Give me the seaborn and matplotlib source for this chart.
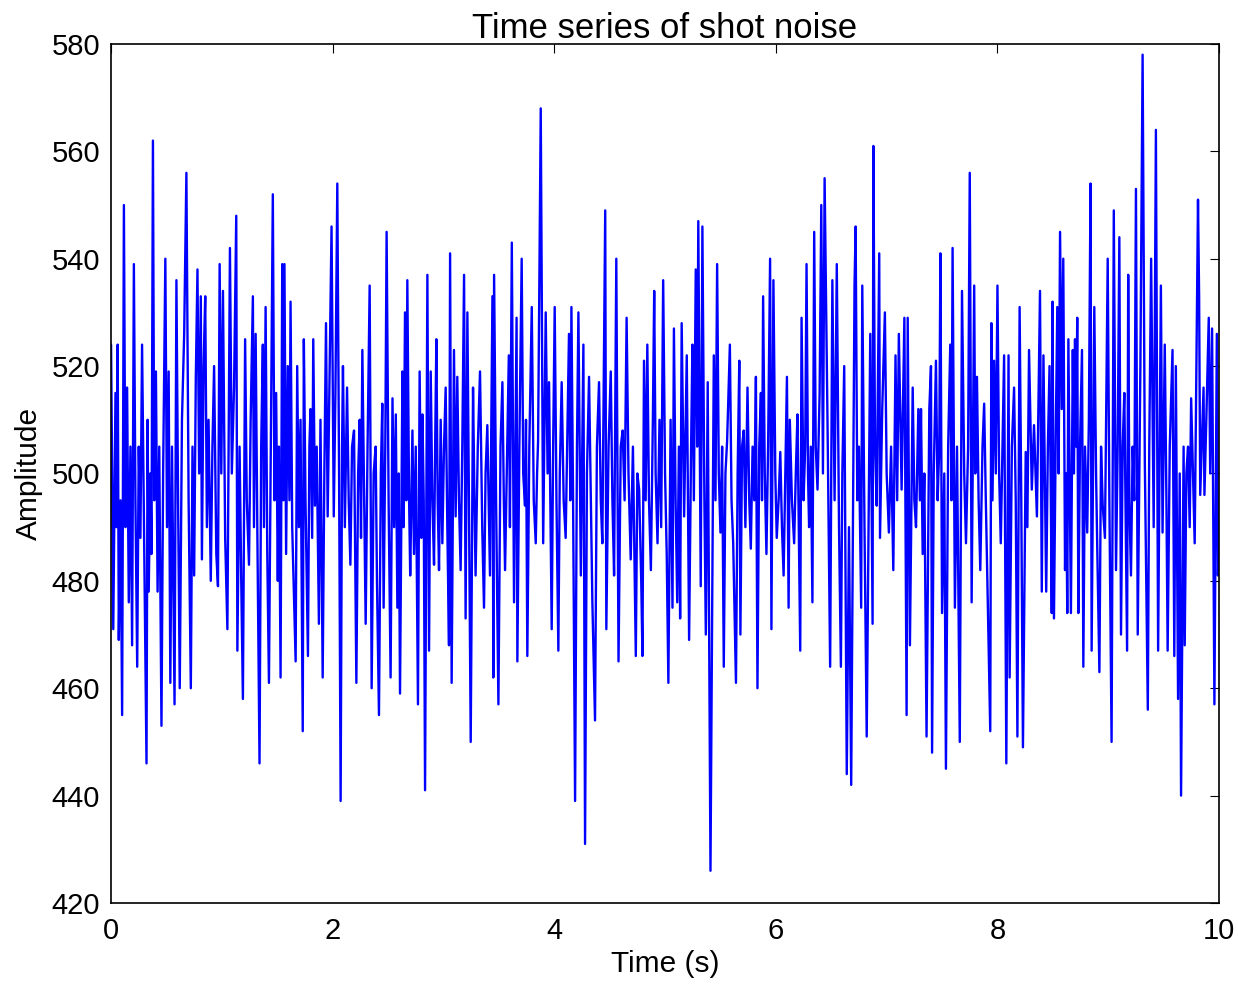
import numpy as np
import pandas as pd
import matplotlib
matplotlib.use("Agg")
import matplotlib.pyplot as plt
import seaborn as sns

# amplitude samples, split in time blocks
t_a = [0.00, 0.01, 0.02, 0.04, 0.05, 0.06, 0.07, 0.085, 0.10, 0.116,
       0.13, 0.145, 0.16, 0.175, 0.19, 0.206, 0.22, 0.236, 0.25, 0.265,
       0.28, 0.30, 0.32, 0.33, 0.34, 0.355, 0.365, 0.378, 0.39, 0.405,
       0.42, 0.435, 0.455, 0.47, 0.49, 0.505, 0.52, 0.535, 0.55, 0.56,
       0.573, 0.59, 0.605, 0.62, 0.64, 0.66, 0.68, 0.70, 0.72, 0.735,
       0.75, 0.765, 0.78, 0.795, 0.81, 0.82, 0.835, 0.85, 0.865, 0.88,
       0.90, 0.915, 0.93, 0.95, 0.965, 0.98, 0.995, 1.01, 1.03, 1.05,
       1.073, 1.09, 1.11, 1.13, 1.14, 1.16, 1.175, 1.19, 1.21, 1.225,
       1.245, 1.26, 1.28, 1.29, 1.305, 1.32, 1.34, 1.355, 1.37, 1.38,
       1.395, 1.41, 1.425, 1.44, 1.46, 1.475, 1.49, 1.505, 1.515, 1.53,
       1.545, 1.555, 1.565, 1.58, 1.595, 1.61, 1.62, 1.635, 1.666]
amp_a = [524, 500, 471, 515, 490, 524, 469, 495, 455, 550,
         490, 516, 476, 505, 468, 539, 495, 464, 505, 488,
         524, 485, 446, 510, 478, 500, 485, 562, 495, 519,
         478, 505, 453, 500, 540, 490, 519, 461, 505, 485,
         457, 536, 495, 460, 510, 526, 556, 495, 460, 505,
         481, 518, 538, 500, 533, 484, 520, 533, 490, 510,
         480, 505, 520, 485, 479, 539, 500, 534, 488, 471,
         542, 500, 516, 548, 467, 505, 480, 458, 525, 495,
         483, 510, 533, 490, 526, 490, 446, 505, 524, 490,
         531, 485, 461, 500, 552, 495, 515, 480, 505, 462,
         539, 495, 539, 485, 520, 495, 532, 490, 465]

t_b = [1.68, 1.695, 1.71, 1.73, 1.74, 1.755, 1.777, 1.79, 1.80, 1.815,
       1.825, 1.84, 1.856, 1.876, 1.89, 1.91, 1.925, 1.94, 1.955, 1.967,
       1.99, 2.01, 2.025, 2.042, 2.058, 2.072, 2.085, 2.093, 2.11, 2.13,
       2.145, 2.16, 2.175, 2.193, 2.214, 2.23, 2.244, 2.256, 2.268, 2.285,
       2.298, 2.315, 2.334, 2.352, 2.37, 2.388, 2.40, 2.418, 2.435, 2.448,
       2.46, 2.475, 2.487, 2.505, 2.523, 2.54, 2.555, 2.57, 2.584, 2.596,
       2.608, 2.63, 2.64, 2.653, 2.665, 2.674, 2.69, 2.70, 2.72, 2.734,
       2.75, 2.77, 2.785, 2.80, 2.81, 2.822, 2.834, 2.855, 2.87, 2.885,
       2.90, 2.915, 2.925, 2.936, 2.948, 2.96, 2.975, 2.99, 3.005, 3.02,
       3.035, 3.05, 3.06, 3.074, 3.095, 3.11, 3.125, 3.14, 3.155, 3.17,
       3.186, 3.20, 3.216, 3.23, 3.246, 3.267, 3.28, 3.29, 3.31, 3.33,
       3.35, 3.366]
amp_b = [520, 490, 510, 452, 525, 495, 466, 505, 512, 488,
         525, 494, 505, 472, 510, 462, 500, 528, 492, 510,
         546, 492, 515, 554, 500, 439, 505, 520, 490, 516,
         495, 483, 505, 508, 461, 500, 510, 488, 523, 495,
         472, 505, 535, 460, 500, 505, 480, 455, 500, 513,
         475, 505, 545, 495, 462, 514, 490, 511, 475, 500,
         459, 519, 490, 530, 495, 536, 495, 481, 508, 485,
         505, 457, 519, 488, 511, 495, 441, 537, 467, 519,
         495, 483, 505, 525, 495, 482, 510, 487, 505, 516,
         490, 468, 541, 461, 523, 492, 518, 495, 482, 505,
         537, 473, 530, 495, 450, 516, 495, 481, 505, 519,
         490, 475]

t_c = [3.38, 3.396, 3.42, 3.43, 3.442, 3.45, 3.457, 3.475, 3.496, 3.515,
       3.532, 3.545, 3.556, 3.575, 3.59, 3.60, 3.617, 3.637, 3.66, 3.667,
       3.685, 3.706, 3.72, 3.736, 3.745, 3.757, 3.775, 3.797, 3.815, 3.833,
       3.845, 3.854, 3.878, 3.90, 3.923, 3.94, 3.953, 3.977, 3.99, 4.004,
       4.02, 4.037, 4.05, 4.067, 4.085, 4.103, 4.12, 4.133, 4.145, 4.155,
       4.17, 4.188, 4.205, 4.218, 4.24, 4.263, 4.278, 4.295, 4.314, 4.33,
       4.344, 4.368, 4.385, 4.404, 4.42, 4.434, 4.46, 4.47, 4.49, 4.51,
       4.525, 4.54, 4.56, 4.58, 4.60, 4.617, 4.635, 4.653, 4.67, 4.69,
       4.71, 4.736, 4.75, 4.766, 4.785, 4.796, 4.81, 4.825, 4.84, 4.855,
       4.872, 4.89, 4.902, 4.915, 4.932, 4.95, 4.965, 4.983, 5.00, 5.015,
       5.03, 5.05, 5.067]
amp_c = [500, 509, 481, 505, 533, 462, 537, 495, 457, 505,
         517, 495, 482, 505, 522, 490, 543, 476, 529, 465,
         505, 540, 500, 494, 510, 466, 505, 531, 495, 487,
         500, 506, 568, 487, 530, 500, 517, 471, 505, 531,
         495, 467, 500, 517, 495, 488, 510, 526, 495, 531,
         495, 439, 505, 530, 481, 524, 431, 500, 518, 495,
         476, 454, 505, 517, 495, 487, 549, 471, 505, 519,
         495, 481, 540, 465, 505, 508, 495, 529, 500, 484,
         505, 466, 500, 497, 480, 466, 521, 495, 524, 495,
         482, 510, 534, 500, 487, 510, 490, 536, 500, 485,
         461, 510, 475]

t_d = [5.08, 5.095, 5.11, 5.125, 5.136, 5.15, 5.172, 5.196, 5.217, 5.235,
       5.247, 5.26, 5.277, 5.29, 5.30, 5.322, 5.337, 5.355, 5.368, 5.385,
       5.41, 5.44, 5.455, 5.47, 5.485, 5.50, 5.515, 5.53, 5.545, 5.56,
       5.585, 5.60, 5.615, 5.64, 5.655, 5.67, 5.68, 5.695, 5.71, 5.725,
       5.744, 5.76, 5.774, 5.79, 5.805, 5.82, 5.834, 5.85, 5.865, 5.875,
       5.885, 5.90, 5.915, 5.93, 5.948, 5.96, 5.978, 5.995, 6.008, 6.025,
       6.04, 6.055, 6.07, 6.085, 6.10, 6.115, 6.126, 6.145, 6.165, 6.18,
       6.195, 6.22, 6.232, 6.25, 6.265, 6.277, 6.29, 6.30, 6.315, 6.33,
       6.346, 6.36, 6.376, 6.395, 6.41, 6.425, 6.44, 6.466, 6.49, 6.51,
       6.53, 6.55, 6.57, 6.587, 6.60, 6.617, 6.64, 6.66, 6.68, 6.70,
       6.71, 6.72, 6.735, 6.75, 6.77, 6.78, 6.80, 6.82]
amp_d = [527, 495, 476, 505, 473, 528, 492, 522, 469, 505,
         524, 495, 538, 505, 547, 479, 546, 495, 470, 517,
         426, 522, 495, 539, 500, 489, 505, 464, 500, 506,
         524, 495, 487, 461, 500, 521, 470, 505, 508, 490,
         516, 495, 486, 505, 495, 518, 460, 505, 515, 495,
         533, 500, 485, 505, 540, 471, 536, 500, 488, 495,
         504, 490, 481, 500, 518, 475, 510, 495, 487, 500,
         511, 467, 529, 495, 505, 539, 500, 490, 505, 476,
         545, 505, 497, 515, 550, 500, 555, 510, 464, 536,
         495, 539, 490, 464, 500, 520, 444, 490, 442, 505,
         535, 546, 495, 505, 475, 535, 490, 451]

t_e = [6.852, 6.873, 6.88, 6.895, 6.91, 6.933, 6.94, 6.96, 6.984, 7.00,
       7.02, 7.04, 7.06, 7.08, 7.095, 7.11, 7.135, 7.16, 7.18, 7.19,
       7.21, 7.235, 7.25, 7.265, 7.286, 7.30, 7.31, 7.325, 7.34, 7.36,
       7.385, 7.40, 7.41, 7.425, 7.445, 7.46, 7.475, 7.485, 7.50, 7.52,
       7.535, 7.555, 7.574, 7.585, 7.595, 7.616, 7.635, 7.66, 7.68, 7.70,
       7.716, 7.735, 7.75, 7.767, 7.79, 7.80, 7.815, 7.83, 7.845, 7.865,
       7.88, 7.895, 7.911, 7.935, 7.945, 7.955, 7.97, 7.985, 8.00, 8.015,
       8.03, 8.045, 8.06, 8.08, 8.10, 8.11, 8.13, 8.15, 8.165, 8.18,
       8.20, 8.215, 8.23, 8.255, 8.27, 8.285, 8.31, 8.33, 8.356, 8.384]
amp_e = [526, 472, 561, 505, 494, 541, 488, 512, 530, 500,
         489, 505, 482, 522, 495, 526, 497, 529, 455, 529,
         468, 516, 495, 490, 512, 495, 512, 485, 500, 451,
         512, 520, 448, 500, 521, 495, 505, 541, 474, 500,
         445, 505, 524, 495, 542, 475, 505, 450, 534, 500,
         487, 505, 556, 476, 535, 500, 518, 495, 482, 505,
         513, 495, 478, 452, 528, 495, 521, 500, 535, 500,
         487, 505, 522, 446, 522, 462, 505, 516, 495, 451,
         531, 495, 449, 504, 490, 523, 497, 509, 492, 534]

t_f = [8.40, 8.415, 8.44, 8.455, 8.47, 8.482, 8.49, 8.497, 8.51, 8.525,
       8.54, 8.552, 8.565, 8.58, 8.594, 8.61, 8.62, 8.63, 8.64, 8.663,
       8.68, 8.69, 8.70, 8.71, 8.72, 8.73, 8.745, 8.763, 8.775, 8.79,
       8.81, 8.825, 8.84, 8.85, 8.874, 8.89, 8.90, 8.92, 8.935, 8.95,
       8.97, 8.995, 9.01, 9.03, 9.05, 9.07, 9.085, 9.10, 9.115, 9.13,
       9.145, 9.17, 9.18, 9.19, 9.205, 9.22, 9.235, 9.25, 9.266, 9.29,
       9.31, 9.33, 9.357, 9.37, 9.387, 9.41, 9.43, 9.45, 9.475, 9.49,
       9.51, 9.525, 9.536, 9.555, 9.58, 9.596, 9.61, 9.63, 9.645, 9.657,
       9.68, 9.69, 9.705, 9.72, 9.735, 9.748, 9.765, 9.78, 9.81, 9.82,
       9.83, 9.86, 9.868, 9.885, 9.907, 9.92, 9.937, 9.958, 9.98, 9.99,
       10.0]
amp_f = [478, 522, 478, 505, 520, 495, 474, 532, 473, 505,
         531, 500, 545, 512, 540, 482, 500, 474, 525, 474,
         523, 500, 525, 505, 529, 474, 505, 523, 464, 505,
         489, 510, 554, 467, 531, 500, 487, 463, 505, 494,
         488, 540, 495, 450, 549, 482, 505, 544, 470, 505,
         515, 467, 537, 495, 481, 505, 495, 553, 470, 520,
         578, 502, 456, 505, 540, 490, 564, 467, 535, 489,
         524, 495, 467, 505, 523, 466, 520, 458, 500, 440,
         505, 468, 500, 505, 490, 514, 500, 487, 551, 533,
         496, 516, 496, 510, 529, 500, 527, 457, 526, 481,
         490]

x_ticks = [0, 2, 4, 6, 8, 10]
y_ticks = [420, 440, 460, 480, 500, 520, 540, 560, 580]

df = pd.DataFrame({
    "Time (s)": t_a + t_b + t_c + t_d + t_e + t_f,
    "Amplitude": amp_a + amp_b + amp_c + amp_d + amp_e + amp_f,
})

sns.set_style("white")
plt.rcParams["font.family"] = ["Liberation Sans", "DejaVu Sans"]
plt.rcParams["text.color"] = "black"
plt.rcParams["axes.labelcolor"] = "black"

fig = plt.figure(figsize=(12.38, 9.9), dpi=100)
ax = fig.add_axes([0.0897, 0.0879, 0.8950, 0.8677])

sns.lineplot(data=df, x="Time (s)", y="Amplitude", color="#0000ff",
             linewidth=1.7, sort=False, estimator=None, ax=ax)

ax.set_xlim(0, 10)
ax.set_ylim(420, 580)
ax.set_xticks(x_ticks)
ax.set_yticks(y_ticks)
ax.tick_params(direction="in", length=6.5, width=0.8, labelsize=21,
               top=True, right=True, colors="black")
ax.tick_params(axis="x", pad=10)
ax.tick_params(axis="y", pad=8)
for s in ax.spines.values():
    s.set_visible(True)
    s.set_color("black")
    s.set_linewidth(1.2)

ax.set_title("Time series of shot noise", fontsize=25, pad=4, color="black")
ax.set_xlabel("Time (s)", fontsize=21.5, labelpad=4)
ax.set_ylabel("Amplitude", fontsize=21.5, labelpad=6)

fig.savefig("out.png", dpi=100)
